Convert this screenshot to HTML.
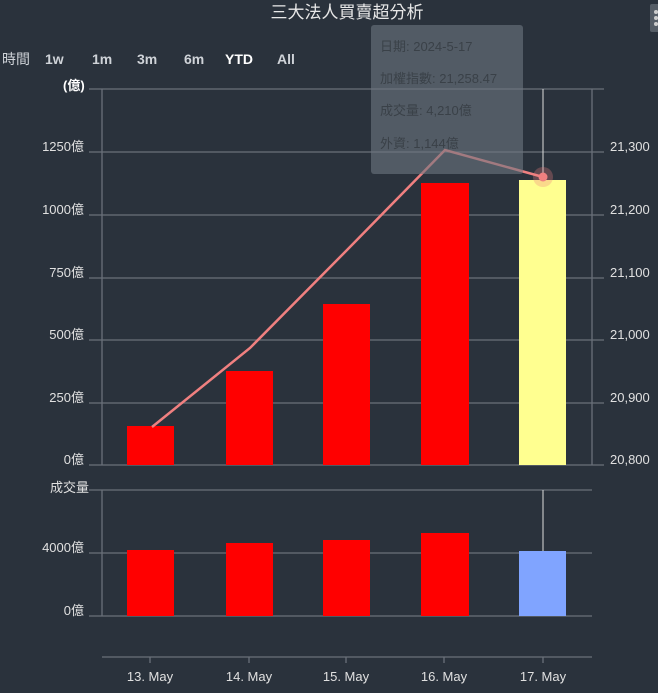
<!DOCTYPE html>
<html><head><meta charset="utf-8"><style>
body{margin:0;background:#2a323c;}
svg{display:block;font-family:"Liberation Sans","Noto Sans CJK TC",sans-serif;}
</style></head><body>
<svg width="658" height="693" viewBox="0 0 658 693">
<rect width="658" height="693" fill="#2a323c"/>
<text x="347" y="18" fill="#e8e8e8" font-size="17" text-anchor="middle">三大法人買賣超分析</text>
<rect x="650" y="4" width="10" height="28" rx="2" fill="#555d66"/>
<circle cx="656" cy="12" r="2" fill="#ccc"/><circle cx="656" cy="18" r="2" fill="#ccc"/><circle cx="656" cy="24" r="2" fill="#ccc"/>
<g font-size="14" font-weight="bold" fill="#cfd3d8">
<text x="2" y="64" font-weight="normal">時間</text>
<text x="45" y="64">1w</text><text x="92" y="64">1m</text><text x="137" y="64">3m</text><text x="184" y="64">6m</text>
<text x="225" y="64" fill="#fff">YTD</text><text x="277" y="64">All</text>
</g>
<text x="63" y="90" fill="#fff" font-size="13" font-weight="bold">(億)</text>
<g stroke="#6a717a" stroke-width="1.3">
<line x1="89" y1="89" x2="604" y2="89"/><line x1="89" y1="152" x2="604" y2="152"/>
<line x1="89" y1="215" x2="604" y2="215"/><line x1="89" y1="278" x2="604" y2="278"/>
<line x1="89" y1="340" x2="604" y2="340"/><line x1="89" y1="403" x2="604" y2="403"/>
<line x1="89" y1="465" x2="604" y2="465"/>
<line x1="102" y1="89" x2="102" y2="465"/><line x1="592" y1="89" x2="592" y2="465"/>
<line x1="89" y1="490" x2="592" y2="490"/><line x1="89" y1="553" x2="592" y2="553"/>
<line x1="89" y1="616" x2="592" y2="616"/><line x1="102" y1="490" x2="102" y2="616"/>
<line x1="102" y1="657" x2="592" y2="657"/>
<line x1="150" y1="657" x2="150" y2="663"/><line x1="249" y1="657" x2="249" y2="663"/>
<line x1="346" y1="657" x2="346" y2="663"/><line x1="444" y1="657" x2="444" y2="663"/>
<line x1="543" y1="657" x2="543" y2="663"/>
</g>
<g font-size="13" fill="#e0e0e0" text-anchor="end">
<text x="84" y="151">1250億</text><text x="84" y="214">1000億</text><text x="84" y="277">750億</text>
<text x="84" y="339">500億</text><text x="84" y="402">250億</text><text x="84" y="464">0億</text>
<text x="84" y="552">4000億</text><text x="84" y="615">0億</text>
<text x="89" y="492">成交量</text>
</g>
<g font-size="13" fill="#e0e0e0">
<text x="610" y="151">21,300</text><text x="610" y="214">21,200</text><text x="610" y="277">21,100</text>
<text x="610" y="339">21,000</text><text x="610" y="402">20,900</text><text x="610" y="464">20,800</text>
</g>
<g font-size="13" fill="#e0e0e0" text-anchor="middle">
<text x="150" y="681">13. May</text><text x="249" y="681">14. May</text><text x="346" y="681">15. May</text>
<text x="444" y="681">16. May</text><text x="543" y="681">17. May</text>
</g>
<g fill="#ff0000">
<rect x="127" y="426" width="47" height="39"/><rect x="226" y="371" width="47" height="94"/>
<rect x="323" y="304" width="47" height="161"/><rect x="421" y="183" width="48" height="282"/>
<rect x="127" y="550" width="47" height="66"/><rect x="226" y="543" width="47" height="73"/>
<rect x="323" y="540" width="47" height="76"/><rect x="421" y="533" width="48" height="83"/>
</g>
<rect x="519" y="180" width="47" height="285" fill="#ffff90"/>
<rect x="519" y="551" width="47" height="65" fill="#80a4ff"/>
<line x1="543" y1="89" x2="543" y2="177" stroke="#ddd" stroke-width="1"/>
<line x1="543" y1="490" x2="543" y2="551" stroke="#ddd" stroke-width="1"/>
<polyline points="152,427 250,348 347,250 445,150 543,177" fill="none" stroke="#f08080" stroke-width="2.5"/>
<circle cx="543" cy="177" r="10" fill="#f08080" opacity="0.3"/>
<circle cx="543" cy="177" r="4.5" fill="#f08080"/>
<rect x="371" y="25" width="152" height="149" rx="3" fill="#6e7780" opacity="0.6"/>
<g font-size="13" fill="#3a4148">
<text x="380" y="51">日期: 2024-5-17</text><text x="380" y="83">加權指數: 21,258.47</text>
<text x="380" y="115">成交量: 4,210億</text><text x="380" y="148">外資: 1,144億</text>
</g>
</svg>
</body></html>
